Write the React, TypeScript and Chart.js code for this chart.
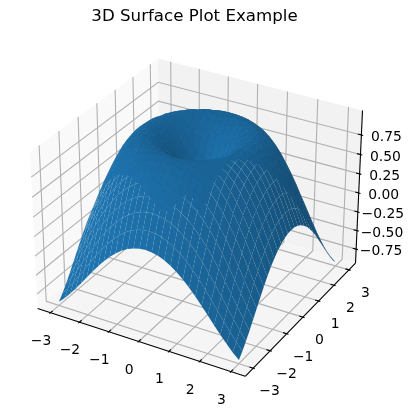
import React, { useEffect, useRef } from "react";
import { Chart, registerables } from "chart.js";

Chart.register(...registerables);

const titleText = "3D Surface Plot Example";
const xValues = [-3, -2.8, -2.6, -2.4, -2.2, -2, -1.8, -1.6, -1.4, -1.2, -1, -0.8, -0.6, -0.4, -0.2, 0, 0.2, 0.4, 0.6, 0.8, 1, 1.2, 1.4, 1.6, 1.8, 2, 2.2, 2.4, 2.6, 2.8, 3];
const yValues = [-3, -2.8, -2.6, -2.4, -2.2, -2, -1.8, -1.6, -1.4, -1.2, -1, -0.8, -0.6, -0.4, -0.2, 0, 0.2, 0.4, 0.6, 0.8, 1, 1.2, 1.4, 1.6, 1.8, 2, 2.2, 2.4, 2.6, 2.8, 3];
// surface heights read for one quadrant (distance from the centre index along each side)
const zQuadrant = [
  [0, .199, .389, .565, .717, .841, .932, .985, 1.0, .974, .909, .808, .675, .516, .335, .141],
  [.199, .279, .433, .591, .734, .852, .938, .988, .999, .971, .905, .803, .669, .509, .328, .134],
  [.389, .433, .536, .66, .78, .881, .953, .993, .997, .963, .892, .787, .651, .489, .308, .114],
  [.565, .591, .66, .75, .841, .919, .974, .999, .99, .948, .869, .759, .619, .456, .275, .082],
  [.717, .734, .78, .841, .905, .958, .992, .999, .976, .921, .835, .718, .574, .409, .228, .037],
  [.841, .852, .881, .919, .958, .988, 1.0, .989, .95, .883, .787, .663, .516, .348, .167, -.021],
  [.932, .938, .953, .974, .992, 1.0, .992, .963, .909, .829, .724, .594, .442, .275, .095, -.089],
  [.985, .988, .993, .999, .999, .989, .963, .918, .85, .759, .645, .509, .355, .188, .011, -.168],
  [1.0, .999, .997, .99, .976, .95, .909, .85, .77, .669, .548, .409, .255, .089, -.083, -.256],
  [.974, .971, .963, .948, .921, .883, .829, .759, .669, .561, .435, .296, .141, -.021, -.186, -.35],
  [.909, .905, .892, .869, .835, .787, .724, .645, .548, .435, .308, .167, .018, -.138, -.295, -.449],
  [.808, .803, .787, .759, .718, .663, .594, .509, .409, .296, .167, .03, -.114, -.261, -.408, -.547],
  [.675, .669, .651, .619, .574, .516, .442, .355, .255, .141, .018, -.114, -.25, -.387, -.52, -.644],
  [.516, .509, .489, .456, .409, .348, .275, .188, .089, -.021, -.138, -.261, -.387, -.511, -.628, -.735],
  [.335, .328, .308, .275, .228, .167, .095, .011, -.083, -.186, -.295, -.408, -.52, -.628, -.729, -.821],
  [.141, .134, .114, .082, .037, -.021, -.089, -.168, -.256, -.35, -.449, -.547, -.644, -.735, -.821, -.891],
];
const xTicks = [-3, -2, -1, 0, 1, 2, 3];
const yTicks = [-3, -2, -1, 0, 1, 2, 3];
const zTicks = [-0.75, -0.5, -0.25, 0, 0.25, 0.5, 0.75];
const xLim = [-3.45, 3.45];
const yLim = [-3.45, 3.45];
const zLim = [-0.94, 1.06];

const AREA_LEFT = 9.7;
const AREA_TOP = 30;
const AREA_WIDTH = 369.6;
const AREA_HEIGHT = 369.6;
const VIEW_X = [-0.095, 0.09];
const VIEW_Y = [-0.095, 0.09];

const boxX = 1.19047;
const boxZ = 0.89285;
const U = [0.866025, 0.5, 0];
const V = [-0.25, 0.433013, 0.866025];
const W = [0.433013, -0.75, 0.5];
const DIST = 10;

type P3 = [number, number, number];

function view(p: P3) {
  const a = [
    ((p[0] - xLim[0]) / (xLim[1] - xLim[0]) - 0.5) * boxX,
    ((p[1] - yLim[0]) / (yLim[1] - yLim[0]) - 0.5) * boxX,
    ((p[2] - zLim[0]) / (zLim[1] - zLim[0]) - 0.5) * boxZ,
  ];
  const dot = (b: number[]) => a[0] * b[0] + a[1] * b[1] + a[2] * b[2];
  const zv = dot(W) - DIST;
  return { x: dot(U) / -zv, y: dot(V) / -zv, d: zv };
}
const pt = (p: P3) => {
  const v = view(p);
  return { x: v.x, y: v.y };
};

function zAt(i: number, j: number) {
  return zQuadrant[Math.abs(i - 15)][Math.abs(j - 15)];
}

const line = (pts: P3[], color: string, width: number) => ({
  data: pts.map(pt),
  showLine: true,
  borderColor: color,
  borderWidth: width,
  pointRadius: 0,
  fill: false,
  tension: 0,
  borderCapStyle: "butt" as const,
});
const poly = (pts: P3[], color: string) => ({
  data: [...pts, pts[0]].map(pt),
  showLine: true,
  borderWidth: 0,
  borderColor: color,
  backgroundColor: color,
  pointRadius: 0,
  fill: "shape" as const,
  tension: 0,
});

function surfaceDatasets() {
  const quads: { d: number; ds: any }[] = [];
  const L = [-0.6667, -0.6667, 0.3333];
  for (let i = 0; i < xValues.length - 1; i++) {
    for (let j = 0; j < yValues.length - 1; j++) {
      const a: P3 = [xValues[i], yValues[j], zAt(i, j)];
      const b: P3 = [xValues[i + 1], yValues[j], zAt(i + 1, j)];
      const c: P3 = [xValues[i + 1], yValues[j + 1], zAt(i + 1, j + 1)];
      const e: P3 = [xValues[i], yValues[j + 1], zAt(i, j + 1)];
      const u = [c[0] - a[0], c[1] - a[1], c[2] - a[2]];
      const v = [e[0] - b[0], e[1] - b[1], e[2] - b[2]];
      const n = [u[1] * v[2] - u[2] * v[1], u[2] * v[0] - u[0] * v[2], u[0] * v[1] - u[1] * v[0]];
      const len = Math.hypot(n[0], n[1], n[2]);
      const s = (n[0] * L[0] + n[1] * L[1] + n[2] * L[2]) / len;
      const f = 0.5 + 0.5 * ((s + 1) / 2);
      const color = `rgb(${31 * f},${119 * f},${180 * f})`;
      const d = (view(a).d + view(b).d + view(c).d + view(e).d) / 4;
      quads.push({ d, ds: poly([a, b, c, e], color) });
    }
  }
  quads.sort((p, q) => p.d - q.d);
  return quads.map((q) => q.ds);
}

function buildDatasets() {
  const [x0, x1] = xLim;
  const [y0, y1] = yLim;
  const [z0, z1] = zLim;
  const out: any[] = [];
  out.push(poly([[x0, y0, z0], [x0, y1, z0], [x0, y1, z1], [x0, y0, z1]], "rgb(249,249,249)"));
  out.push(poly([[x0, y1, z0], [x1, y1, z0], [x1, y1, z1], [x0, y1, z1]], "rgb(242,242,242)"));
  out.push(poly([[x0, y0, z0], [x1, y0, z0], [x1, y1, z0], [x0, y1, z0]], "rgb(245,245,245)"));
  const grid = "#b0b0b0";
  const dx = (x1 - x0) / 12;
  const dy = (y1 - y0) / 12;
  for (const t of xTicks) out.push(line([[t, y0, z0], [t, y1, z0], [t, y1, z1]], grid, 1.1));
  for (const t of yTicks) out.push(line([[x1, t, z0], [x0, t, z0], [x0, t, z1]], grid, 1.1));
  for (const t of zTicks) out.push(line([[x1, y1, t], [x0, y1, t], [x0, y0, t]], grid, 1.1));
  out.push(line([[x0, y0, z0], [x1, y0, z0]], "#000", 1.1));
  out.push(line([[x1, y0, z0], [x1, y1, z0]], "#000", 1.1));
  out.push(line([[x1, y1, z0], [x1, y1, z1]], "#000", 1.1));
  for (const t of xTicks) out.push(line([[t, y0 - 0.1 * dy, z0], [t, y0 + 0.2 * dy, z0]], "#000", 1.1));
  for (const t of yTicks) out.push(line([[x1 + 0.1 * dx, t, z0], [x1 - 0.2 * dx, t, z0]], "#000", 1.1));
  for (const t of zTicks) out.push(line([[x1 + 0.1 * dx, y1, t], [x1 - 0.2 * dx, y1, t]], "#000", 1.1));
  out.push(...surfaceDatasets());
  return out.reverse();
}

const fmt = (v: number) => (v < 0 ? "\u2212" : "") + Math.abs(v).toString();
const fmtZ = (v: number) => (v < 0 ? "\u2212" : "") + Math.abs(v).toFixed(2);

const tickLabels = {
  id: "tickLabels",
  afterDatasetsDraw(chart: any) {
    const { ctx, scales } = chart;
    const [, x1] = xLim;
    const [y0, y1] = yLim;
    const [z0] = zLim;
    const put = (p: P3, s: string, ox: number, oy: number) => {
      const v = pt(p);
      ctx.fillText(s, scales.x.getPixelForValue(v.x) + ox, scales.y.getPixelForValue(v.y) + oy);
    };
    ctx.save();
    ctx.font = '13.9px "DejaVu Sans"';
    ctx.fillStyle = "#000";
    ctx.textAlign = "center";
    ctx.textBaseline = "middle";
    for (const t of xTicks) put([t, y0, z0], fmt(t), -9.5, 28.5);
    for (const t of yTicks) put([x1, t, z0], fmt(t), 16.5, 23.5);
    for (const t of zTicks) put([x1, y1, t], fmtZ(t), 25, 2.5);
    ctx.restore();
  },
};

export default function App() {
  const ref = useRef<HTMLCanvasElement>(null);
  useEffect(() => {
    if (!ref.current) return;
    const chart = new Chart(ref.current, {
      type: "scatter",
      data: { datasets: buildDatasets() },
      plugins: [tickLabels],
      options: {
        animation: false,
        responsive: false,
        events: [],
        layout: {
          padding: {
            left: AREA_LEFT,
            right: 415 - AREA_LEFT - AREA_WIDTH,
            top: 0,
            bottom: 419 - AREA_TOP - AREA_HEIGHT,
          },
        },
        scales: {
          x: { type: "linear", display: false, min: VIEW_X[0], max: VIEW_X[1] },
          y: { type: "linear", display: false, min: VIEW_Y[0], max: VIEW_Y[1] },
        },
        plugins: {
          legend: { display: false },
          tooltip: { enabled: false },
          title: {
            display: true,
            text: titleText,
            color: "#000",
            fullSize: false,
            font: { family: '"DejaVu Sans"', size: 16.67, weight: "normal", lineHeight: 1.2 },
            padding: { top: 7, bottom: AREA_TOP - 27 },
          },
        },
      } as any,
    });
    return () => chart.destroy();
  }, []);
  return (
    <div style={{ position: "absolute", left: 0, top: 0, width: 415, height: 419 }}>
      <canvas ref={ref} width={415} height={419} style={{ display: "block" }} />
    </div>
  );
}
